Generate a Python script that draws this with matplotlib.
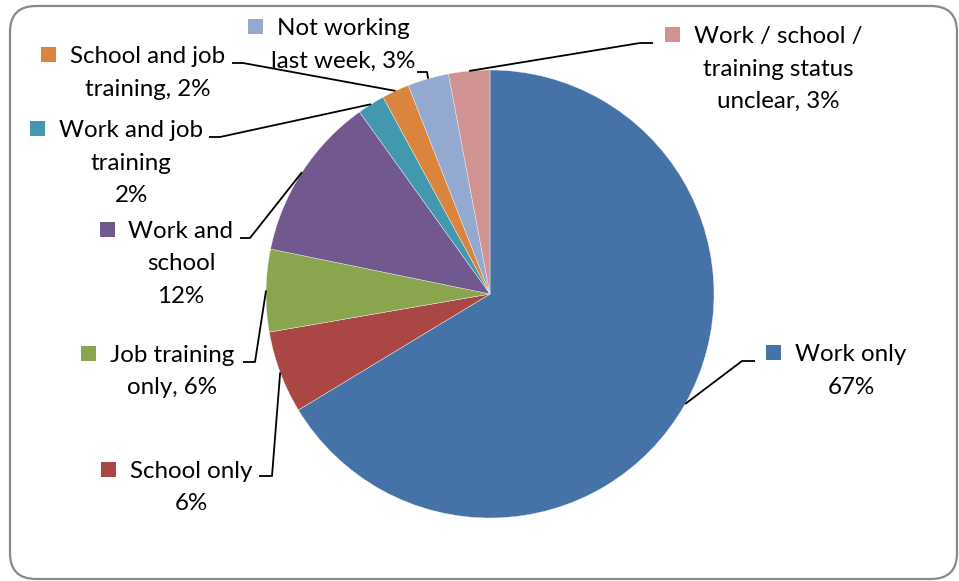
import matplotlib
matplotlib.use("Agg")
import matplotlib.pyplot as plt
from matplotlib.patches import FancyBboxPatch, Rectangle
import numpy as np

# Activity status shares (percent)
categories = ["Work only", "School only", "Job training only", "Work and school",
              "Work and job training", "School and job training",
              "Not working last week", "Work / school / training status unclear"]
shares = [67, 6, 6, 12, 2, 2, 3, 3]
label_formats = ["Work only\n{}%", "School only\n{}%", "Job training\nonly, {}%",
                 "Work and\nschool\n{}%", "Work and job\ntraining\n{}%",
                 "School and job\ntraining, {}%", "Not working\nlast week, {}%",
                 "Work / school /\ntraining status\nunclear, {}%"]
colors = ["#4572A7", "#AA4643", "#89A54E", "#71588F",
          "#4198AF", "#DB843D", "#93A9CF", "#D19392"]

W, H = 959, 581
# label placement in pixel space (y downwards):
# text centre x, first baseline y, knee x, knee y, leader start x
label_layout = [
    (851, 361, 742, 361, 755),
    (191, 478, 272, 476, 259),
    (172, 362, 255, 362, 243),
    (181, 238, 250, 238, 240),
    (131, 137, 220, 137, 209),
    (148, 63, 243, 63, 232),
    (343, 35, 427, 72, 417),
    (778, 43, 640, 43, 653),
]
LINE = 32.5
FONT = dict(family=["Lato", "DejaVu Sans"], size=17.4, color="#000000")

fig = plt.figure(figsize=(W / 100, H / 100), dpi=100)
ax = fig.add_axes([0, 0, 1, 1])


def Y(y):
    return H - y


frame = FancyBboxPatch((10, Y(579)), 947, 573,
                       boxstyle="round,pad=0,rounding_size=26",
                       fc="white", ec="#898989", lw=1.6, clip_on=False, zorder=0)
ax.add_patch(frame)

cx, cy, r = 490, Y(294), 224
wedges, _ = ax.pie(shares, colors=colors, startangle=90, counterclock=False,
                   center=(cx, cy), radius=r, frame=True,
                   wedgeprops=dict(linewidth=0.3, edgecolor="#f0f0f0"))
ax.set_xlim(0, W)
ax.set_ylim(0, H)
ax.set_aspect("auto")
ax.axis("off")

fig.canvas.draw()
renderer = fig.canvas.get_renderer()

for wedge, fmt, val, col, (tx, by, kx, ky, sx) in zip(
        wedges, label_formats, shares, colors, label_layout):
    lines = fmt.format(val).split("\n")
    first = None
    for i, line in enumerate(lines):
        t = ax.text(tx, Y(by + i * LINE), line, ha="center", va="baseline", **FONT)
        if i == 0:
            first = t
    bb = first.get_window_extent(renderer)
    left_px = bb.x0  # display pixels == data units here
    ax.add_patch(Rectangle((left_px - 14 - 15, Y(by - 1)), 15, 15,
                           fc=col, ec="none", zorder=3))
    mid = np.deg2rad((wedge.theta1 + wedge.theta2) / 2)
    px, py = cx + r * np.cos(mid), cy + r * np.sin(mid)
    ax.plot([sx, kx, px], [Y(ky), Y(ky), py], color="black", lw=1.3,
            solid_capstyle="butt", zorder=4)

fig.savefig("out.png", dpi=100)
